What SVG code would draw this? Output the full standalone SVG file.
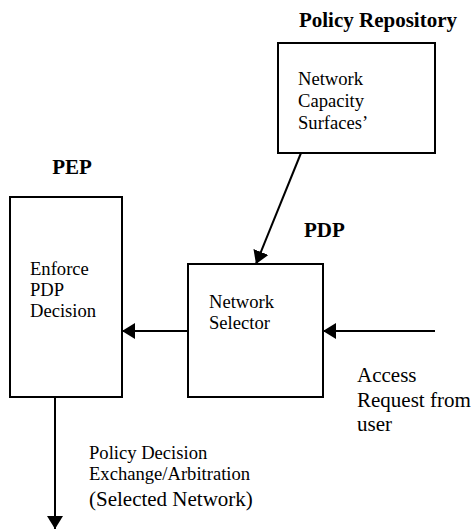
<svg xmlns="http://www.w3.org/2000/svg" width="473" height="530" viewBox="0 0 473 530">
<style>
.box{fill:#fff;stroke:#000;stroke-width:2}
text{font-family:"Liberation Serif","Times New Roman",Times,"DejaVu Serif",serif;fill:#000}
.t{font-size:18.6px}
.big{font-size:21px}
.lbl{font-size:21px;font-weight:bold}
.c{stroke:#000;stroke-width:2;fill:none}
</style>
<defs>
<marker id="ah" markerUnits="userSpaceOnUse" markerWidth="13" markerHeight="16" refX="13" refY="8" orient="auto" viewBox="0 0 13 16">
<path d="M0,0 L13,8 L0,16 z" fill="#000"/>
</marker>
</defs>
<rect width="473" height="530" fill="#fff"/>
<g id="policy-repository" font-family="Liberation Serif, Times New Roman, serif">
<rect class="box" x="278" y="43" width="157" height="110"/>
<text class="lbl" x="457" y="27" text-anchor="end">Policy Repository</text>
<text class="t" x="298" y="85">Network</text>
<text class="t" x="298" y="107">Capacity</text>
<text class="t" x="298" y="129">Surfaces’</text>
</g>
<g id="pep">
<rect class="box" x="10" y="197" width="112" height="200"/>
<text class="lbl" x="72" y="174" text-anchor="middle">PEP</text>
<text class="t" x="30" y="275">Enforce</text>
<text class="t" x="30" y="296">PDP</text>
<text class="t" x="30" y="317">Decision</text>
</g>
<g id="pdp">
<rect class="box" x="188" y="264" width="135" height="133"/>
<text class="lbl" x="304" y="237">PDP</text>
<text class="t" x="209" y="308">Network</text>
<text class="t" x="209" y="329">Selector</text>
</g>
<g id="access-request">
<text class="big" x="357" y="382">Access</text>
<text class="big" x="357" y="407">Request from</text>
<text class="big" x="357" y="431">user</text>
</g>
<g id="policy-decision">
<text class="t" x="89" y="459">Policy Decision</text>
<text class="t" x="89" y="480">Exchange/Arbitration</text>
<text class="big" x="89" y="506">(Selected Network)</text>
</g>
<g id="connectors">
<line class="c" x1="301" y1="153" x2="256" y2="264" marker-end="url(#ah)"/>
<line class="c" x1="188" y1="331" x2="122" y2="331" marker-end="url(#ah)"/>
<line class="c" x1="435" y1="331" x2="323" y2="331" marker-end="url(#ah)"/>
<line class="c" x1="55" y1="397" x2="55" y2="529" marker-end="url(#ah)"/>
</g>
</svg>
